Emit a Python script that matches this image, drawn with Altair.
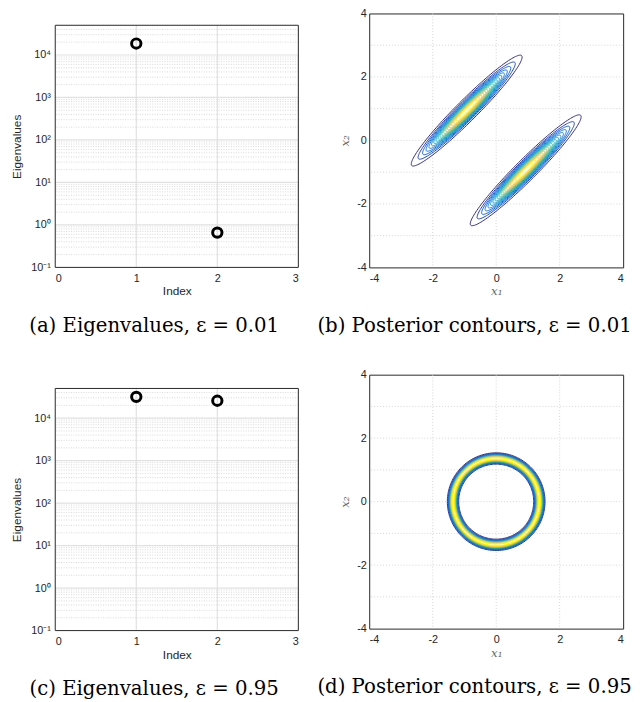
import math
import numpy as np
import pandas as pd
import altair as alt

# ---------------- data ----------------
INDEX = [1, 2]
EIG_EPS001 = [1.86e4, 0.66]
EIG_EPS095 = [3.17e4, 2.57e4]

LOG_DECADES = [0.1, 1, 10, 100, 1000, 10000]
LOG_DECADE_LABELS = ["10⁻¹", "10⁰", "10¹", "10²", "10³", "10⁴"]
LOG_MINOR_MULT = [2, 3, 4, 5, 6, 7, 8, 9]
LOG_TOP = 5e4
INDEX_TICKS = [0, 1, 2, 3]
INDEX_GRID = [1, 2]

XY_TICKS_X = [-4, -2, 0, 2, 4]
XY_TICKS_Y = [-4, -3, -2, -1, 0, 1, 2, 3, 4]
XY_GRID_X = [-2, 0, 2]
XY_GRID_Y = [-3, -2, -1, 0, 1, 2, 3]

# contour levels (fraction of the maximum density)
LEVELS = [0.05, 0.10, 0.15, 0.20, 0.25, 0.30, 0.35, 0.40, 0.45, 0.50,
          0.55, 0.60, 0.65, 0.70, 0.75, 0.80, 0.85, 0.90, 0.95]

# eps = 0.01 : two elongated modes
MODE_CX = [-0.93, 0.93]
MODE_CY = [0.94, -0.94]
MODE_ANGLE_DEG = 45
MODE_SD_MAJOR = 1.0
MODE_SD_MINOR = 0.135

# eps = 0.95 : ring
RING_R = 1.36
RING_SD = 0.073

PARULA = ["#352a87", "#0363e1", "#1485d4", "#06a7c6", "#38b99e",
          "#92bf73", "#d9ba56", "#fcce2e", "#f9fb0e"]

CAPTIONS = ["(a) Eigenvalues, ε = 0.01", "(b) Posterior contours, ε = 0.01",
            "(c) Eigenvalues, ε = 0.95", "(d) Posterior contours, ε = 0.95"]

# ---------------- helpers ----------------
def parula(f):
    f = (f - LEVELS[0]) / (LEVELS[-1] - LEVELS[0])
    f = min(max(f, 0.0), 1.0)
    p = f * (len(PARULA) - 1)
    i = min(int(p), len(PARULA) - 2)
    t = p - i
    c0 = [int(PARULA[i][k:k + 2], 16) for k in (1, 3, 5)]
    c1 = [int(PARULA[i + 1][k:k + 2], 16) for k in (1, 3, 5)]
    c = [round(a + (b - a) * t) for a, b in zip(c0, c1)]
    return "#%02x%02x%02x" % tuple(c)


def modes_table():
    rows = []
    th = math.radians(MODE_ANGLE_DEG)
    t = np.linspace(0, 2 * np.pi, 141)
    for li, f in enumerate(LEVELS):
        rr = math.sqrt(-2 * math.log(f))
        a, b = MODE_SD_MAJOR * rr, MODE_SD_MINOR * rr
        for m, (cx, cy) in enumerate(zip(MODE_CX, MODE_CY)):
            xs = cx + a * np.cos(t) * math.cos(th) - b * np.sin(t) * math.sin(th)
            ys = cy + a * np.cos(t) * math.sin(th) + b * np.sin(t) * math.cos(th)
            for i, (x, y) in enumerate(zip(xs, ys)):
                rows.append((round(float(x), 4), round(float(y), 4), f"{li:02d}-{m}", i, parula(f)))
    return pd.DataFrame(rows, columns=["x", "y", "key", "i", "c"])


def ring_table():
    rows = []
    t = np.linspace(0, 2 * np.pi, 181)
    for li, f in enumerate(LEVELS):
        d = RING_SD * math.sqrt(-2 * math.log(f))
        for m, r in enumerate([RING_R - d, RING_R + d]):
            for i, tt in enumerate(t):
                rows.append((round(r * math.cos(tt), 4), round(r * math.sin(tt), 4), f"{li:02d}-{m}", i, parula(f)))
    return pd.DataFrame(rows, columns=["x", "y", "key", "i", "c"])


def log_label_expr():
    parts = []
    for v, lab in zip(LOG_DECADES[:-1], LOG_DECADE_LABELS[:-1]):
        parts.append(f"datum.value < {v * 3} ? '{lab}' : ")
    return "".join(parts) + f"'{LOG_DECADE_LABELS[-1]}'"


GRID_MAJOR = "#e1e1e1"
GRID_MINOR = "#cfcfcf"
TXT = "#262626"

A_W = 247           # eigenvalue panel plot width
A_PLOT_H = 246      # eigenvalue panel plot height
B_W, B_H = 258, 258  # contour panel size
GAP_X = 72
GAP_Y = 109
A_VIEW_H = 258      # view height of top eigen panel (plot area at its bottom)
C_VIEW_H = 260      # view height of bottom eigen panel


def caption(text, dx, offset):
    return alt.TitleParams(text=text, orient="bottom", anchor="middle", frame="group",
                           font="DejaVu Serif", fontSize=20, fontWeight="normal",
                           color="black", dx=dx, offset=offset, baseline="top")


def eig_panel(values, cap, view_h, offset):
    ydom = alt.Scale(type="log", domain=[LOG_DECADES[0], LOG_TOP], nice=False,
                     range=[view_h, view_h - A_PLOT_H])
    xdom = alt.Scale(domain=[INDEX_TICKS[0], INDEX_TICKS[-1]], nice=False, zero=False)
    minor = [m * d for d in LOG_DECADES for m in LOG_MINOR_MULT if m * d < LOG_TOP]
    minor_df = pd.DataFrame({"v": minor})
    major_df = pd.DataFrame({"v": LOG_DECADES[1:]})
    xg_df = pd.DataFrame({"x": INDEX_GRID, "y1": [LOG_DECADES[0]] * len(INDEX_GRID),
                          "y2": [LOG_TOP] * len(INDEX_GRID)})
    hframe_df = pd.DataFrame({"v": [LOG_DECADES[0], LOG_TOP]})
    vframe_df = pd.DataFrame({"x": [INDEX_TICKS[0], INDEX_TICKS[-1]], "y1": [LOG_DECADES[0]] * 2,
                              "y2": [LOG_TOP] * 2})
    pts = pd.DataFrame({"idx": INDEX, "eig": values})

    yaxis = alt.Axis(values=LOG_DECADES, labelExpr=log_label_expr(), title="Eigenvalues",
                     labelPadding=5, titlePadding=7, labelColor=TXT, labelFontSize=11)
    xaxis = alt.Axis(values=INDEX_TICKS, format="d", title="Index", labelPadding=5,
                     titlePadding=3, labelColor=TXT)

    minor_l = alt.Chart(minor_df).mark_rule(color=GRID_MINOR, strokeWidth=0.8, strokeDash=[1, 1.5]).encode(
        y=alt.Y("v:Q", scale=ydom, axis=yaxis))
    major_l = alt.Chart(major_df).mark_rule(color=GRID_MAJOR, strokeWidth=1.2).encode(
        y=alt.Y("v:Q", scale=ydom))
    xg_l = alt.Chart(xg_df).mark_rule(color=GRID_MAJOR, strokeWidth=1.2).encode(
        x=alt.X("x:Q", scale=xdom, axis=xaxis), y=alt.Y("y1:Q", scale=ydom), y2="y2:Q")
    hf_l = alt.Chart(hframe_df).mark_rule(color=TXT, strokeWidth=1).encode(
        y=alt.Y("v:Q", scale=ydom))
    vf_l = alt.Chart(vframe_df).mark_rule(color=TXT, strokeWidth=1).encode(
        x=alt.X("x:Q", scale=xdom), y=alt.Y("y1:Q", scale=ydom), y2="y2:Q")
    pts_l = alt.Chart(pts).mark_point(shape="circle", filled=False, size=90, strokeWidth=3,
                                      color="black", opacity=1).encode(
        x=alt.X("idx:Q", scale=xdom), y=alt.Y("eig:Q", scale=ydom))
    return alt.layer(minor_l, major_l, xg_l, hf_l, vf_l, pts_l).properties(
        width=A_W, height=view_h, title=caption(cap, -23, offset),
        view={"stroke": "transparent"})


def contour_panel(df, cap, offset):
    sc = alt.Scale(domain=[-4, 4], nice=False, zero=False)
    xaxis = alt.Axis(values=XY_TICKS_X, labelExpr="'' + datum.value", title="x₁",
                     titleFont="DejaVu Serif", titleFontStyle="italic", titleColor="#666666",
                     titleFontSize=12, labelPadding=5, titlePadding=3, labelColor=TXT)
    yaxis = alt.Axis(values=XY_TICKS_Y, labelExpr="'' + datum.value", title="x₂",
                     titleFont="DejaVu Serif", titleFontStyle="italic", titleColor="#666666",
                     titleFontSize=12, labelPadding=3, titlePadding=5, labelColor=TXT)
    gx = alt.Chart(pd.DataFrame({"v": XY_GRID_X})).mark_rule(
        color="#d4d4d4", strokeWidth=1, strokeDash=[1, 2]).encode(x=alt.X("v:Q", scale=sc, axis=xaxis))
    gy = alt.Chart(pd.DataFrame({"v": XY_GRID_Y})).mark_rule(
        color="#d4d4d4", strokeWidth=1, strokeDash=[1, 2]).encode(y=alt.Y("v:Q", scale=sc, axis=yaxis))
    lines = alt.Chart(df).mark_line(strokeWidth=1).encode(
        x=alt.X("x:Q", scale=sc), y=alt.Y("y:Q", scale=sc),
        detail="key:N", order="i:Q", color=alt.Color("c:N", scale=None))
    return alt.layer(gx, gy, lines).properties(width=B_W, height=B_H,
                                               title=caption(cap, -22, offset))


pa = eig_panel(EIG_EPS001, CAPTIONS[0], A_VIEW_H, 20)
pc = eig_panel(EIG_EPS095, CAPTIONS[2], C_VIEW_H, 19)
pb = contour_panel(modes_table(), CAPTIONS[1], 20)
pd_ = contour_panel(ring_table(), CAPTIONS[3], 19)

chart = alt.concat(pa, pb, pc, pd_, columns=2, spacing={"row": GAP_Y, "column": GAP_X},
                   bounds="flush", align="each").properties(
    padding={"left": 2, "top": -7, "right": 0, "bottom": -3}
).configure_view(stroke=TXT, strokeWidth=1).configure_axis(
    labelFont="Liberation Sans", labelFontSize=11, labelColor=TXT,
    titleFont="Liberation Sans", titleFontSize=12, titleFontWeight="normal", titleColor=TXT,
    domain=False, ticks=False, grid=False
)

chart.save("out.html", embed_options={"renderer": "svg", "actions": False})
